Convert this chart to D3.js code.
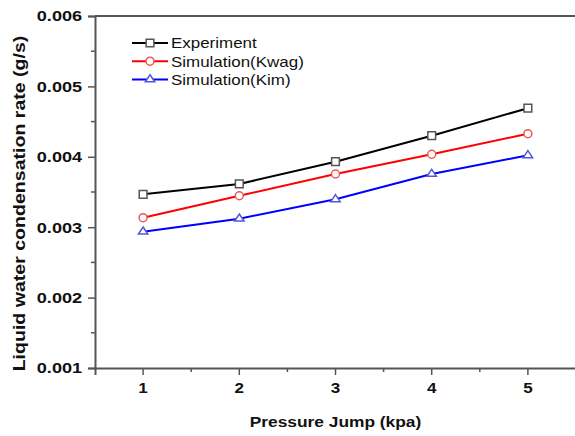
<!DOCTYPE html>
<html>
<head>
<meta charset="utf-8">
<script src="https://cdn.jsdelivr.net/npm/d3@7"></script>
<style>
  body { margin: 0; background: #fff; }
  svg { display: block; font-family: "Liberation Sans", Arial, sans-serif; }
</style>
</head>
<body>
<div id="wrapper"></div>
<script>
// data
const pressure = [1, 2, 3, 4, 5]
const experiment = [0.003467, 0.003614, 0.00393, 0.0043, 0.00469]
const simKwag = [0.003135, 0.003447, 0.003756, 0.004036, 0.004328]
const simKim = [0.002936, 0.003121, 0.003396, 0.003756, 0.004021]
const seriesNames = ["Experiment", "Simulation(Kwag)", "Simulation(Kim)"]
const yTicks = [0.001, 0.002, 0.003, 0.004, 0.005, 0.006]
const xTicks = [1, 2, 3, 4, 5]

function drawChart() {
  const dimensions = {
    width: 575,
    height: 436,
    margin: { top: 16, right: -1, bottom: 68, left: 95 },
  }
  dimensions.boundedWidth = dimensions.width - dimensions.margin.left - dimensions.margin.right
  dimensions.boundedHeight = dimensions.height - dimensions.margin.top - dimensions.margin.bottom

  const series = [
    { name: seriesNames[0], values: experiment, color: "#000", mark: "#555", shape: "square" },
    { name: seriesNames[1], values: simKwag, color: "#f00", mark: "#e55", shape: "circle" },
    { name: seriesNames[2], values: simKim, color: "#00f", mark: "#55d", shape: "triangle" },
  ]

  const wrapper = d3.select("#wrapper")
    .append("svg")
      .attr("width", dimensions.width)
      .attr("height", dimensions.height)

  const bounds = wrapper.append("g")
      .attr("transform", `translate(${dimensions.margin.left},${dimensions.margin.top})`)

  const xScale = d3.scaleLinear()
      .domain([0.5, 5.5])
      .range([0, dimensions.boundedWidth])

  const yScale = d3.scaleLinear()
      .domain([0.001, 0.006])
      .range([dimensions.boundedHeight, 0])

  // top frame line
  bounds.append("line")
      .attr("x1", 0).attr("x2", dimensions.boundedWidth)
      .attr("y1", 0).attr("y2", 0)
      .attr("stroke", "#555").attr("stroke-width", 2)

  // minor ticks
  const xMinor = [1.5, 2.5, 3.5, 4.5]
  const yMinor = [0.0015, 0.0025, 0.0035, 0.0045, 0.0055]

  const xAxis = bounds.append("g")
      .attr("transform", `translate(0,${dimensions.boundedHeight})`)
      .call(d3.axisBottom(xScale).tickValues(xTicks).tickSize(7).tickPadding(7).tickFormat(d3.format("d")))
  xAxis.append("g").selectAll("line").data(xMinor).join("line")
      .attr("x1", d => xScale(d)).attr("x2", d => xScale(d))
      .attr("y1", 0).attr("y2", 4)
      .attr("stroke", "#555").attr("stroke-width", 1.5)

  const yAxis = bounds.append("g")
      .call(d3.axisLeft(yScale).tickValues(yTicks).tickSize(7).tickPadding(5).tickFormat(d3.format(".3f")))
  yAxis.append("g").selectAll("line").data(yMinor).join("line")
      .attr("y1", d => yScale(d)).attr("y2", d => yScale(d))
      .attr("x1", 0).attr("x2", -4)
      .attr("stroke", "#555").attr("stroke-width", 1.5)

  ;[xAxis, yAxis].forEach(ax => {
    ax.select(".domain").attr("stroke", "#555").attr("stroke-width", 2)
    ax.selectAll(".tick line").attr("stroke", "#555").attr("stroke-width", 1.5)
    ax.selectAll(".tick text")
      .attr("fill", "#111")
      .style("font-size", "15.5px")
      .style("font-weight", "bold")
      .style("font-family", "'Liberation Sans', Arial, sans-serif")
  })
  // the picture's text is a bit wide, stretch it
  yAxis.selectAll(".tick text")
      .attr("x", -11)
      .attr("transform", "scale(1.17,1)")
  xAxis.selectAll(".tick text")
      .attr("transform", "scale(1.1,1)")
      .attr("x", function() { return 0 })
  xAxis.selectAll(".tick").each(function(d) {
    d3.select(this).attr("transform", `translate(${xScale(d)},0)`)
  })

  const flatTriangle = {
    draw(context, size) {
      const w = 4.7, h = 7
      context.moveTo(0, -h * 2 / 3)
      context.lineTo(w, h / 3)
      context.lineTo(-w, h / 3)
      context.closePath()
    }
  }

  const symbolFor = shape => {
    if (shape === "square") return d3.symbol(d3.symbolSquare, 60)()
    if (shape === "circle") return d3.symbol(d3.symbolCircle, 50)()
    return d3.symbol(flatTriangle, 40)()
  }

  const lineGenerator = d3.line()
      .x((d, i) => xScale(pressure[i]))
      .y(d => yScale(d))

  series.forEach(s => {
    bounds.append("path")
        .attr("d", lineGenerator(s.values))
        .attr("fill", "none")
        .attr("stroke", s.color)
        .attr("stroke-width", 2)

    bounds.selectAll(null)
        .data(s.values)
        .join("path")
          .attr("d", symbolFor(s.shape))
          .attr("transform", (d, i) => `translate(${xScale(pressure[i])},${yScale(d)})`)
          .attr("fill", "#fff")
          .attr("stroke", s.mark)
          .attr("stroke-width", 1.5)
  })

  // legend
  const legend = wrapper.append("g")
  series.forEach((s, i) => {
    const y = 43 + i * 18.2
    legend.append("line")
        .attr("x1", 132).attr("x2", 168)
        .attr("y1", y).attr("y2", y)
        .attr("stroke", s.color).attr("stroke-width", 2)
    legend.append("path")
        .attr("d", symbolFor(s.shape))
        .attr("transform", `translate(150,${y})`)
        .attr("fill", "#fff")
        .attr("stroke", s.mark)
        .attr("stroke-width", 1.5)
    legend.append("text")
        .attr("transform", `translate(171,${y}) scale(1.13,1)`)
        .attr("dy", "0.36em")
        .attr("fill", "#111")
        .style("font-size", "15px")
        .text(s.name)
  })

  // axis labels
  wrapper.append("text")
      .attr("transform", "translate(335.5,427) scale(1.12,1)")
      .attr("text-anchor", "middle")
      .attr("fill", "#111")
      .style("font-size", "15.5px")
      .style("font-weight", "bold")
      .text("Pressure Jump (kpa)")

  wrapper.append("text")
      .attr("transform", "translate(19,203.5) rotate(-90) scale(1.2,1)")
      .attr("text-anchor", "middle")
      .attr("dy", "0.35em")
      .attr("fill", "#111")
      .style("font-size", "16.3px")
      .style("font-weight", "bold")
      .text("Liquid water condensation rate (g/s)")
}
drawChart()
</script>
</body>
</html>
